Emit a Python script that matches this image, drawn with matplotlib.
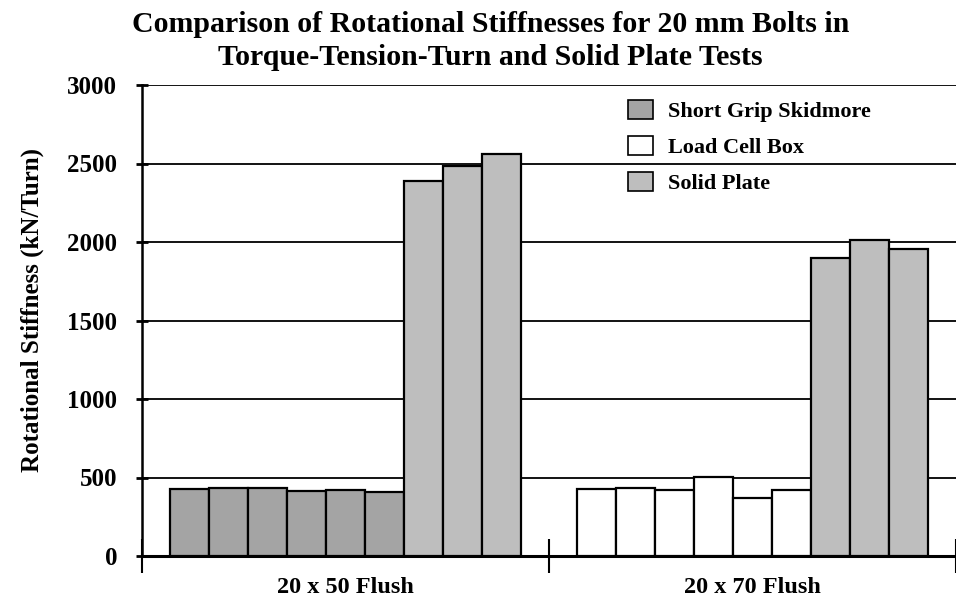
import matplotlib
matplotlib.use("Agg")
import matplotlib.pyplot as plt
from matplotlib.patches import Patch
import numpy as np

# data
categories = ['20 x 50 Flush', '20 x 70 Flush']
skidmore_50 = [425, 430, 433, 412, 422, 405]
load_cell_70 = [425, 433, 419, 505, 371, 423]
solid_plate_50 = [2390, 2485, 2560]
solid_plate_70 = [1900, 2015, 1955]
y_ticks = [0, 500, 1000, 1500, 2000, 2500, 3000]
series_names = ['Short Grip Skidmore', 'Load Cell Box', 'Solid Plate']
title_lines = ['Comparison of Rotational Stiffnesses for 20 mm Bolts in',
               'Torque-Tension-Turn and Solid Plate Tests']

plt.rcParams['font.family'] = ['Liberation Serif', 'DejaVu Serif']
plt.rcParams['font.weight'] = 'bold'

SKID_COL = '#a4a4a4'
LOAD_COL = '#ffffff'
SOLID_COL = '#bebebe'

W, H = 956, 605
fig = plt.figure(figsize=(W / 100, H / 100), dpi=100)
ax = fig.add_axes([142 / W, 1 - 556 / H, 1 - 142 / W, (556 - 85) / H])

w = 0.0956
slots = (np.arange(9) - 4) * w


def draw(center, values, slot_idx, color):
    xs = center + slots[slot_idx]
    ax.bar(xs, values, width=w, color=color, edgecolor='black',
           linewidth=1.6, zorder=3)


draw(0, skidmore_50, np.arange(6), SKID_COL)
draw(0, solid_plate_50, np.arange(6, 9), SOLID_COL)
draw(1, load_cell_70, np.arange(6), LOAD_COL)
draw(1, solid_plate_70, np.arange(6, 9), SOLID_COL)

ax.set_xlim(-0.5, 1.485)
ax.set_ylim(0, 3000)

# gridlines behind bars
for yv in y_ticks[1:]:
    ax.axhline(yv, color='black', lw=1.3, zorder=1)

ax.set_yticks(y_ticks)
ax.set_yticklabels([str(v) for v in y_ticks], fontsize=18, fontweight='bold')
ax.tick_params(axis='y', direction='inout', length=8, width=2, pad=14)

ax.set_xticks([-0.5, 0.5, 1.5])
ax.set_xticklabels([])
ax.tick_params(axis='x', which='major', direction='inout', length=24, width=1.5)
ax.set_xticks([0, 1], minor=True)
ax.set_xticklabels(categories, minor=True, fontsize=17.5, fontweight='bold')
ax.tick_params(axis='x', which='minor', length=0, pad=15)

for s in ['top', 'right']:
    ax.spines[s].set_visible(False)
ax.spines['left'].set_linewidth(1.8)
ax.spines['bottom'].set_linewidth(2.2)

# two-line title, baselines placed separately
fig.text(0.513, 1 - 32 / H, title_lines[0], ha='center', va='baseline',
         fontsize=21.5, fontweight='bold')
fig.text(0.513, 1 - 65 / H, title_lines[1], ha='center', va='baseline',
         fontsize=21.5, fontweight='bold')

fig.text(0.034, 1 - 310 / H, 'Rotational Stiffness (kN/Turn)',
         rotation=90, ha='center', va='center', fontsize=18, fontweight='bold')

handles = [Patch(facecolor=SKID_COL, edgecolor='black', lw=1.2),
           Patch(facecolor=LOAD_COL, edgecolor='black', lw=1.2),
           Patch(facecolor=SOLID_COL, edgecolor='black', lw=1.2)]
fig.legend(handles, series_names, loc='upper left',
           bbox_to_anchor=(628 / W, 1 - 100 / H), frameon=False,
           borderpad=0, borderaxespad=0,
           prop={'size': 16, 'weight': 'bold'}, handlelength=1.12,
           handleheight=0.95, labelspacing=0.62, handletextpad=0.68)

fig.savefig('out.png', dpi=100)
